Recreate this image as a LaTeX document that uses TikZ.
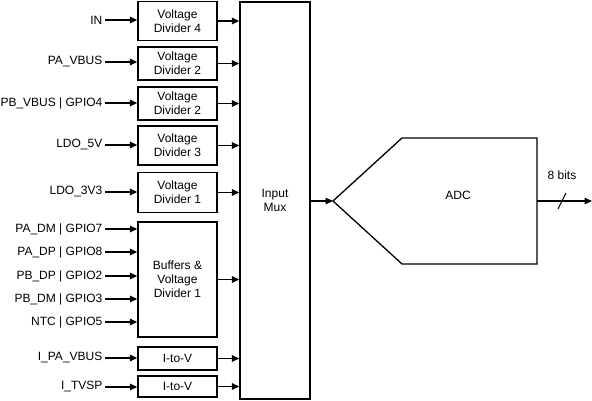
\documentclass[tikz,border=0pt]{standalone}
\usepackage{fontspec}
\setmainfont{Liberation Sans}
\usetikzlibrary{arrows.meta}

\begin{document}
\begin{tikzpicture}[x=1pt,y=-1pt,line width=1.3pt,
  font=\fontsize{12}{14}\selectfont,
  >={Triangle[length=7.5pt,width=6.5pt]},
  blk/.style={draw,minimum width=79pt,inner sep=0pt,align=center},
  lbl/.style={anchor=east,inner sep=2pt}]
\useasboundingbox (0,0) rectangle (592,401);
% divider blocks
\node[blk,minimum height=39pt] (vdiv4) at (177.5,21) {Voltage\\Divider 4};
\node[blk,minimum height=33pt] (vdiv2a) at (177.5,63.5) {Voltage\\Divider 2};
\node[blk,minimum height=33pt] (vdiv2b) at (177.5,103.5) {Voltage\\Divider 2};
\node[blk,minimum height=39pt] (vdiv3) at (177.5,145.5) {Voltage\\Divider 3};
\node[blk,minimum height=40pt] (vdiv1) at (177.5,192.5) {Voltage\\Divider 1};
\node[blk,minimum height=115pt] (buf) at (177.5,279.5) {Buffers \&\\Voltage\\Divider 1};
\node[blk,minimum height=23pt] (itov1) at (177.5,358.5) {I-to-V};
\node[blk,minimum height=21pt] (itov2) at (177.5,386.5) {I-to-V};
\node[draw,minimum width=70pt,minimum height=397pt,align=center] (mux) at (275,200.5) {Input\\Mux};
% input labels
\node[lbl] (in) at (105,20) {IN};
\node[lbl] (pavbus) at (105,62) {PA\_VBUS};
\node[lbl] (pbvbus) at (105,103) {PB\_VBUS | GPIO4};
\node[lbl] (ldo5) at (105,145) {LDO\_5V};
\node[lbl] (ldo3) at (105,192) {LDO\_3V3};
\node[lbl] (padm) at (105,229) {PA\_DM | GPIO7};
\node[lbl] (padp) at (105,252) {PA\_DP | GPIO8};
\node[lbl] (pbdp) at (105,276) {PB\_DP | GPIO2};
\node[lbl] (pbdm) at (105,299) {PB\_DM | GPIO3};
\node[lbl] (ntc) at (105,322) {NTC | GPIO5};
\node[lbl] (ipavbus) at (105,358) {I\_PA\_VBUS};
\node[lbl] (itvsp) at (105,387) {I\_TVSP};
\foreach \a/\b in {in/vdiv4,pavbus/vdiv2a,pbvbus/vdiv2b,ldo5/vdiv3,ldo3/vdiv1,
  padm/buf,padp/buf,pbdp/buf,pbdm/buf,ntc/buf,ipavbus/itov1,itvsp/itov2}
  \draw[->] (\a.east) -- (\a.east -| \b.west);
\draw[->] (vdiv4.east) -- (vdiv4.east -| mux.west);
\draw[->] (vdiv2a.east) -- (vdiv2a.east -| mux.west);
\draw[->] (vdiv2b.east) -- (vdiv2b.east -| mux.west);
\draw[->] (vdiv3.east) -- (vdiv3.east -| mux.west);
\draw[->] (vdiv1.east) -- (vdiv1.east -| mux.west);
\draw[->] (buf.east) -- (buf.east -| mux.west);
\draw[->] (itov1.east) -- (itov1.east -| mux.west);
\draw[->] (itov2.east) -- (itov2.east -| mux.west);
% ADC
\coordinate (adcin) at (333,201);
\draw (adcin) -- (402,138) -- (537,138) -- (537,264) -- (402,264) -- cycle;
\node (adc) at (458,195) {ADC};
\coordinate (adcout) at (537,201);
\coordinate (bus) at (592,201);
\draw[->] (mux.east |- adcin) -- (adcin);
\draw[->] (adcout) -- (bus);
\draw[line width=1pt] (558,209) -- (566,193);
\node (bits) at (562,175) {8 bits};
\end{tikzpicture}
\end{document}
